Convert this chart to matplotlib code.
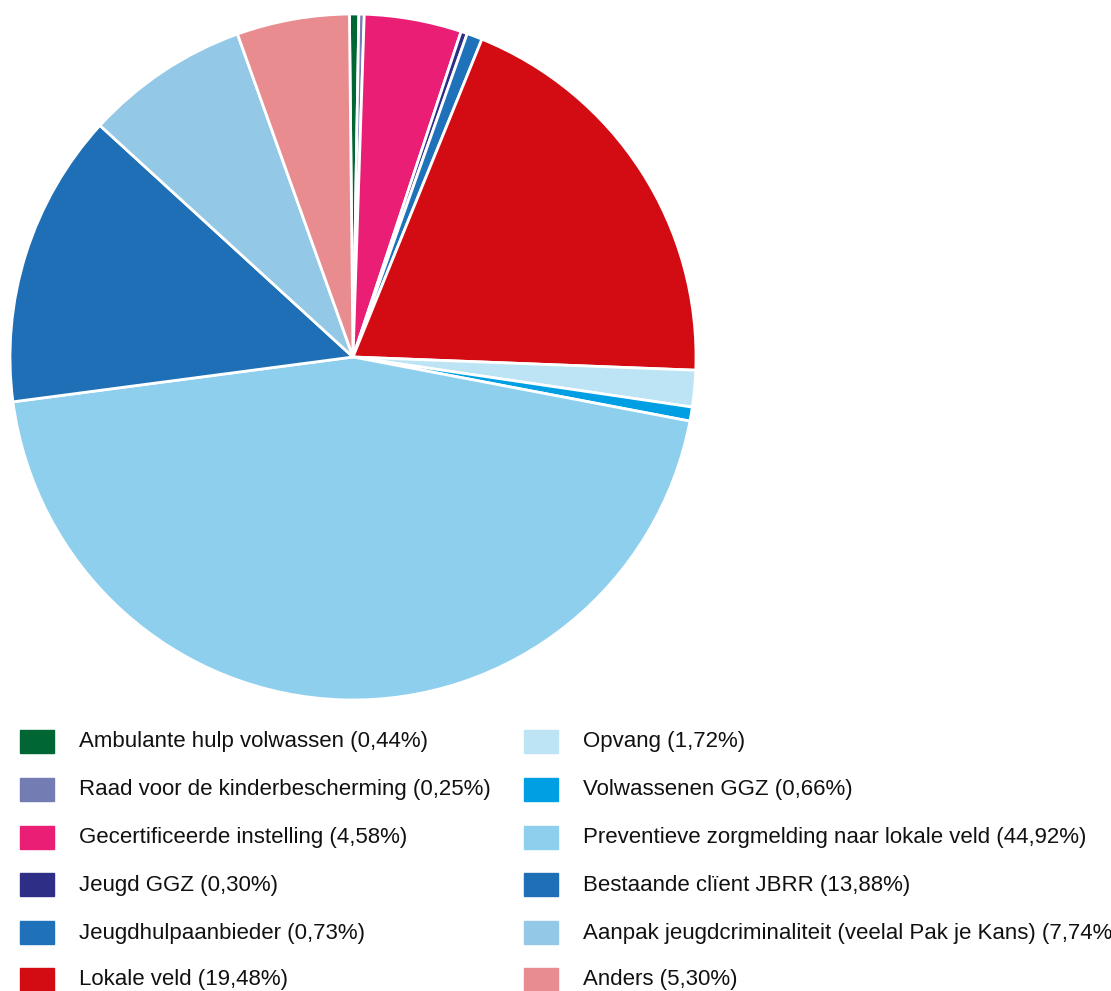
import matplotlib.pyplot as plt
from matplotlib.patches import Rectangle

plt.rcParams['font.family'] = ['Liberation Sans', 'DejaVu Sans']

labels = ["Ambulante hulp volwassen", "Raad voor de kinderbescherming",
          "Gecertificeerde instelling", "Jeugd GGZ", "Jeugdhulpaanbieder",
          "Lokale veld", "Opvang", "Volwassenen GGZ",
          "Preventieve zorgmelding naar lokale veld", "Bestaande clïent JBRR",
          "Aanpak jeugdcriminaliteit (veelal Pak je Kans)", "Anders"]
values = [0.44, 0.25, 4.58, 0.30, 0.73, 19.48, 1.72, 0.66, 44.92, 13.88, 7.74, 5.30]
colors = ["#006633", "#737cb3", "#e91e74", "#2e2e87", "#1f72ba", "#d20c12",
          "#bde4f5", "#009fe3", "#8ecfee", "#1f6fb6", "#93c9e6", "#e88c90"]

W, H = 1111, 991
fig = plt.figure(figsize=(W / 100, H / 100), dpi=100)

# pie axes placed by pixel box
cx, cy, r = 353, 357, 343
ax = fig.add_axes([(cx - r) / W, (H - cy - r) / H, 2 * r / W, 2 * r / H])
ax.pie(values, colors=colors, startangle=90.6, counterclock=False, radius=1,
       wedgeprops=dict(edgecolor="white", linewidth=2))
ax.set_xlim(-1, 1)
ax.set_ylim(-1, 1)
ax.axis("off")

# legend, two columns of six
row_y = [742, 790, 838, 885, 933, 980]
col_x = [20, 524]
for i, (lab, val, col) in enumerate(zip(labels, values, colors)):
    c, rr = divmod(i, 6)
    x0, y0 = col_x[c], row_y[rr]
    fig.patches.append(Rectangle((x0 / W, (H - y0 - 11) / H), 34 / W, 23 / H,
                                 color=col, transform=fig.transFigure))
    txt = f"{lab} ({val:.2f}%)".replace(".", ",")
    fig.text((x0 + 59) / W, (H - y0) / H, txt, fontsize=16,
             va="center", ha="left", color="#111111")

fig.savefig("out.png", dpi=100)
